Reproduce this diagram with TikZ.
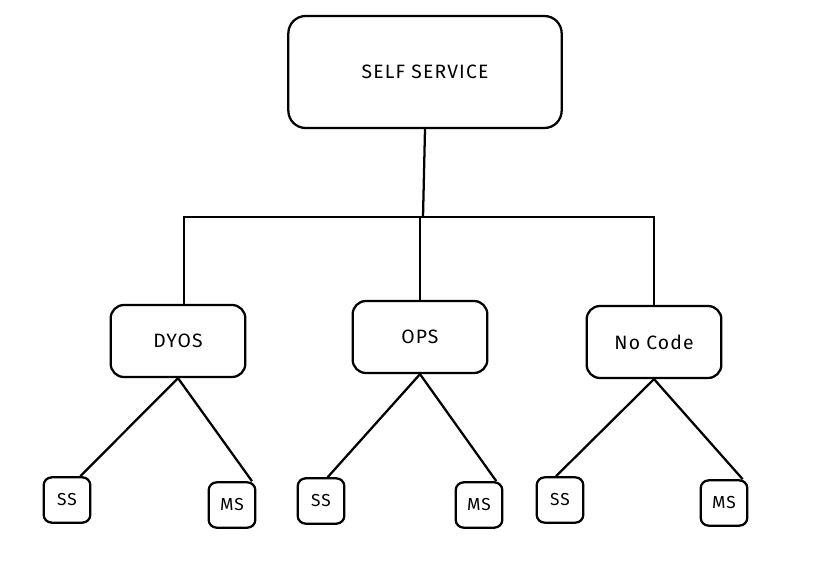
\documentclass[tikz,border=0pt]{standalone}
\usepackage{fontspec}
\setmainfont{Fira Sans}
\newfontfamily\sketchfont[LetterSpace=6]{Fira Sans}
\begin{document}
\begin{tikzpicture}[x=0.75pt,y=-0.75pt]

    \tikzset{
      BoxStyle/.style = { rectangle, draw, line width = 1.7pt, inner sep = 0pt },
      TopStyle/.style = { BoxStyle, rounded corners = 13pt,
                          minimum width = 205pt, minimum height = 84pt,
                          font = \sketchfont\fontsize{14.5}{17}\selectfont },
      MidStyle/.style = { BoxStyle, rounded corners = 10pt,
                          minimum width = 101pt, minimum height = 54pt,
                          font = \sketchfont\fontsize{14.5}{17}\selectfont },
      LeafStyle/.style = { BoxStyle, rounded corners = 6pt,
                           minimum width = 35pt, minimum height = 34pt,
                           font = \sketchfont\fontsize{13}{15}\selectfont },
      EdgeStyle/.style = { line width = 1.7pt } }
      \useasboundingbox (0,0) rectangle (823,564);

      \node[TopStyle] (self) at (425,72) {SELF SERVICE};

      \node[MidStyle] (dyos) at (178,341) {DYOS};
      \node[MidStyle] (ops) at (420,337) {OPS};
      \node[MidStyle] (nocode) at (654,342) {No Code};

      \node[LeafStyle] (ss1) at (67,500) {SS};
      \node[LeafStyle] (ms1) at (232,505) {MS};
      \node[LeafStyle] (ss2) at (321,501) {SS};
      \node[LeafStyle] (ms2) at (479,505) {MS};
      \node[LeafStyle] (ss3) at (560,500) {SS};
      \node[LeafStyle] (ms3) at (724,503) {MS};

      \coordinate (bus) at (423,217);

      \draw[EdgeStyle] (self.south) -- (bus);
      \draw[EdgeStyle] ([xshift=4.5pt]dyos.north) |- (bus);
      \draw[EdgeStyle] (ops.north) |- (bus);
      \draw[EdgeStyle] (nocode.north) |- (bus);

      \draw[EdgeStyle] (dyos.south) -- ([xshift=10pt]ss1.north);
      \draw[EdgeStyle] (dyos.south) -- ([xshift=15pt]ms1.north);
      \draw[EdgeStyle] (ops.south) -- ([xshift=5pt]ss2.north);
      \draw[EdgeStyle] (ops.south) -- ([xshift=13pt]ms2.north);
      \draw[EdgeStyle] (nocode.south) -- ([xshift=-3pt]ss3.north);
      \draw[EdgeStyle] (nocode.south) -- ([xshift=14pt]ms3.north);

\end{tikzpicture}
\end{document}
